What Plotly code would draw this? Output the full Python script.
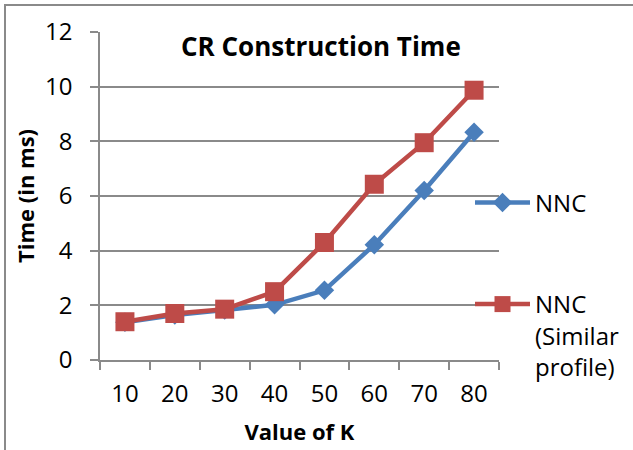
import plotly.graph_objects as go

k_values = ["10", "20", "30", "40", "50", "60", "70", "80"]
nnc = [1.38, 1.65, 1.83, 2.02, 2.55, 4.22, 6.2, 8.33]
nnc_similar = [1.4, 1.7, 1.86, 2.5, 4.3, 6.43, 7.95, 9.87]
y_ticks = [0, 2, 4, 6, 8, 10, 12]

FONT = "Open Sans"
GRID = "#8a8a8a"
BLUE = "#4A7EBB"
RED = "#BE4B48"

fig = go.Figure()
fig.add_trace(go.Scatter(
    x=k_values, y=nnc, name="NNC", mode="lines+markers",
    line=dict(color=BLUE, width=4.5),
    marker=dict(symbol="diamond", size=15, color=BLUE),
    legend="legend",
))
fig.add_trace(go.Scatter(
    x=k_values, y=nnc_similar, name="NNC<br>(Similar<br>profile)", mode="lines+markers",
    line=dict(color=RED, width=4.5),
    marker=dict(symbol="square", size=19, color=RED),
    legend="legend2",
))

L, R, T, B = 100, 134, 32, 90
W, H = 633, 450
pw, ph = W - L - R, H - T - B


def px(x):
    return (x - L) / pw


def py(y):
    return (H - B - y) / ph


fig.update_layout(
    width=W, height=H,
    margin=dict(l=L, r=R, t=T, b=B, autoexpand=False),
    paper_bgcolor="white", plot_bgcolor="white",
    font=dict(family=FONT, size=24, color="black"),
    showlegend=True,
    legend=dict(x=px(470), y=py(203), xanchor="left", yanchor="middle",
                itemwidth=55, bgcolor="rgba(0,0,0,0)",
                font=dict(family=FONT, size=24, color="black")),
    legend2=dict(x=px(470), y=py(282), xanchor="left", yanchor="top",
                 itemwidth=55, valign="top", bgcolor="rgba(0,0,0,0)",
                 font=dict(family=FONT, size=24, color="black")),
    xaxis=dict(
        type="category", tickson="boundaries", ticks="outside", ticklen=8,
        tickcolor=GRID, tickwidth=1.5, showline=True, linecolor=GRID, linewidth=1.5,
        showgrid=False, ticklabelstandoff=11,
        tickfont=dict(family=FONT, size=24),
        title=dict(text="<b>Value of K</b>", font=dict(family=FONT, size=22), standoff=17),
        range=[-0.5, 7.5],
    ),
    yaxis=dict(
        range=[0, 12], tickvals=y_ticks, ticks="outside", ticklen=8,
        tickcolor=GRID, tickwidth=1.5, showline=True, linecolor=GRID, linewidth=1.5,
        showgrid=True, gridcolor=GRID, gridwidth=1.5, zeroline=False,
        ticklabelstandoff=13,
        tickfont=dict(family=FONT, size=24),
        title=dict(text="<b>Time (in ms)</b>", font=dict(family=FONT, size=22), standoff=4),
    ),
    annotations=[dict(
        text="<b>CR Construction Time</b>", x=px(321), y=py(46),
        xref="paper", yref="paper", xanchor="center", yanchor="middle",
        showarrow=False, font=dict(family=FONT, size=26, color="black"),
    )],
)

frame_js = (
    "document.body.style.margin='0';"
    "document.body.style.overflow='hidden';"
    "var f=document.createElement('div');"
    "f.style.cssText='position:absolute;left:4px;top:4px;width:700px;height:600px;"
    "border-top:2px solid #8a8a8a;border-left:2px solid #8a8a8a;"
    "pointer-events:none;z-index:10;';"
    "document.body.appendChild(f);"
)

fig.write_html(
    "out.html",
    config={"displayModeBar": False},
    post_script=frame_js,
)
